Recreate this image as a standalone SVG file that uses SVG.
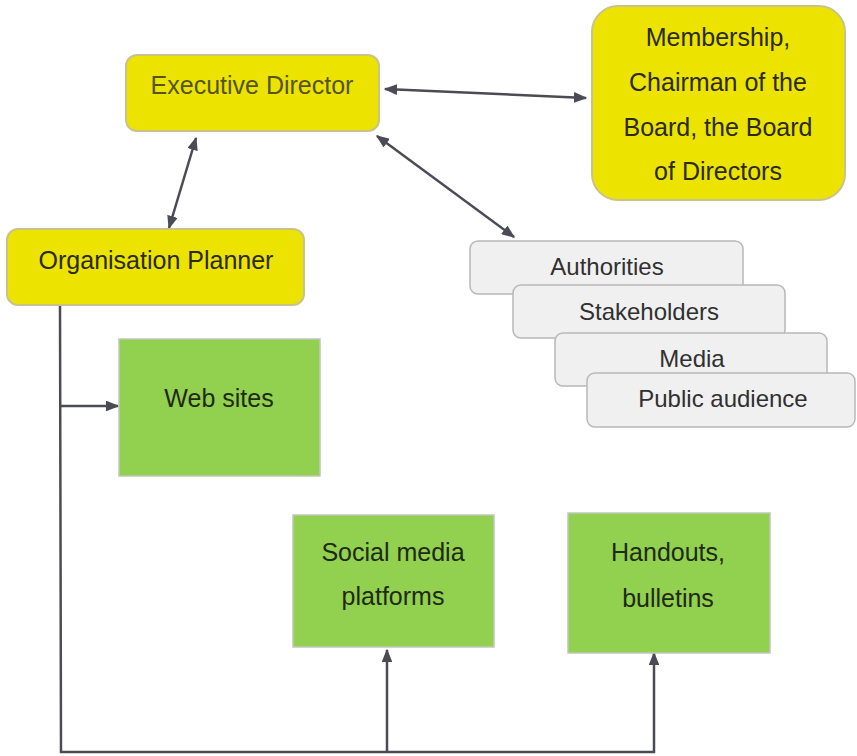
<svg xmlns="http://www.w3.org/2000/svg" width="857" height="756" viewBox="0 0 857 756">
<style>
text{font-family:"Liberation Sans",Arial,sans-serif;font-size:25px;text-anchor:middle}
.yel{fill:#ece400;stroke:#c9c38a;stroke-width:2}
.gry{fill:#f0f0f0;stroke:#b8b8b8;stroke-width:1.5}
.grn{fill:#92d050;stroke:#c0c8b8;stroke-width:1.5}
.ln{stroke:#4a4b55;stroke-width:2.5;fill:none}
.t1{fill:#2b2a10}
.t2{fill:#303030;font-size:24px}
.t3{fill:#1f2a12}
</style>
<defs>
<marker id="ah" viewBox="0 0 10 8" refX="9" refY="4" markerWidth="5.4" markerHeight="4.3" orient="auto-start-reverse" markerUnits="strokeWidth">
<path d="M0,0 L10,4 L0,8 z" fill="#4a4b55"/>
</marker>
</defs>
<g id="connectors">
<line class="ln" x1="385" y1="89" x2="586" y2="98" marker-start="url(#ah)" marker-end="url(#ah)"/>
<line class="ln" x1="377" y1="136" x2="514" y2="237" marker-start="url(#ah)" marker-end="url(#ah)"/>
<line class="ln" x1="196" y1="138" x2="169" y2="228" marker-start="url(#ah)" marker-end="url(#ah)"/>
<polyline class="ln" points="60,305 61,752 654,752 654,653" marker-end="url(#ah)"/>
<line class="ln" x1="61" y1="406" x2="118" y2="406" marker-end="url(#ah)"/>
<line class="ln" x1="387" y1="752" x2="387" y2="650" marker-end="url(#ah)"/>
</g>
<g id="executive-director">
<rect class="yel" x="126" y="55" width="253" height="76" rx="11"/>
<text x="252" y="94" fill="#55531e">Executive Director</text>
</g>
<g id="membership">
<rect class="yel" x="592" y="6" width="253" height="194" rx="26"/>
<text class="t1" x="718" y="46">Membership,</text>
<text class="t1" x="718" y="91">Chairman of the</text>
<text class="t1" x="718" y="136">Board, the Board</text>
<text class="t1" x="718" y="180">of Directors</text>
</g>
<g id="organisation-planner">
<rect class="yel" x="7" y="229" width="297" height="76" rx="11"/>
<text class="t1" x="156" y="269">Organisation Planner</text>
</g>
<g id="authorities">
<rect class="gry" x="470" y="241" width="273" height="53" rx="8"/>
<text class="t2" x="607" y="275">Authorities</text>
</g>
<g id="stakeholders">
<rect class="gry" x="513" y="285" width="272" height="53" rx="8"/>
<text class="t2" x="649" y="320">Stakeholders</text>
</g>
<g id="media">
<rect class="gry" x="555" y="333" width="272" height="53" rx="8"/>
<text class="t2" x="692" y="367">Media</text>
</g>
<g id="public-audience">
<rect class="gry" x="587" y="373" width="268" height="54" rx="8"/>
<text class="t2" x="723" y="407">Public audience</text>
</g>
<g id="web-sites">
<rect class="grn" x="119" y="339" width="201" height="137"/>
<text class="t3" x="219" y="407">Web sites</text>
</g>
<g id="social-media">
<rect class="grn" x="293" y="515" width="201" height="132"/>
<text class="t3" x="393" y="561">Social media</text>
<text class="t3" x="393" y="605">platforms</text>
</g>
<g id="handouts">
<rect class="grn" x="568" y="513" width="202" height="140"/>
<text class="t3" x="668" y="561">Handouts,</text>
<text class="t3" x="668" y="607">bulletins</text>
</g>
</svg>
